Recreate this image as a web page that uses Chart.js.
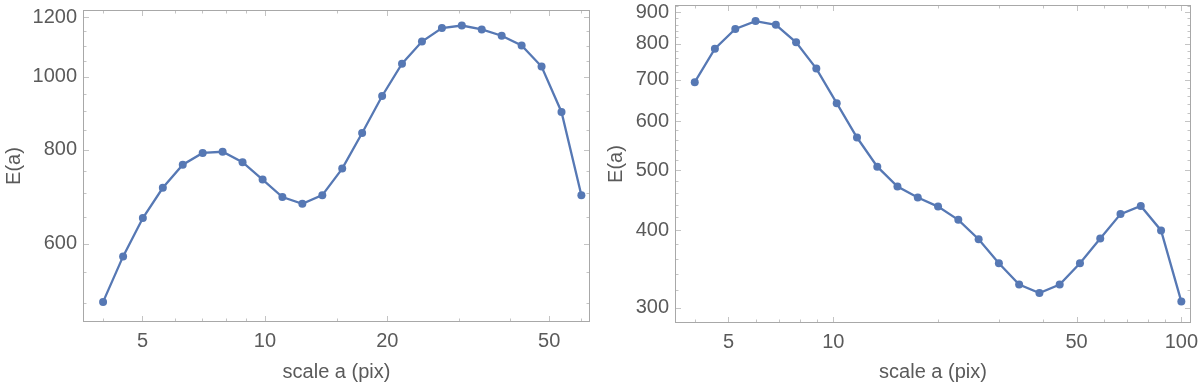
<!DOCTYPE html>
<html>
<head>
<meta charset="utf-8">
<script src="https://cdn.jsdelivr.net/npm/chart.js@4/dist/chart.umd.min.js"></script>
<style>
  html, body { margin: 0; padding: 0; background: #fff; }
  .panel { position: absolute; top: 0; width: 600px; height: 384px; }
</style>
</head>
<body>
<div class="panel" style="left:0"><canvas id="chartLeft" width="600" height="384"></canvas></div>
<div class="panel" style="left:600px"><canvas id="chartRight" width="600" height="384"></canvas></div>
<script>
// ============================================================================
//  DATA
// ============================================================================
const leftScales = [4.0, 4.48, 5.01, 5.61, 6.28, 7.03, 7.87, 8.81, 9.87, 11.04, 12.36, 13.84,
    15.49, 17.34, 19.42, 21.73, 24.33, 27.24, 30.49, 34.13, 38.21, 42.78, 47.89, 53.61, 60.0];
const leftEnergy = [502, 577, 649, 712, 764, 792, 795, 770, 730, 692, 678, 696,
    755, 842, 943, 1041, 1114, 1161, 1170, 1156, 1134, 1101, 1032, 898, 696];

const rightScales = [4.0, 4.57, 5.23, 5.98, 6.84, 7.82, 8.94, 10.23, 11.70, 13.38, 15.29, 17.49,
    20.0, 22.87, 26.16, 29.91, 34.20, 39.11, 44.72, 51.14, 58.48, 66.87, 76.47, 87.44, 100];
const rightEnergy = [694, 786, 846, 871, 859, 805, 730, 642, 565, 507, 471, 452,
    437, 416, 387, 354, 327, 317, 327, 354, 388, 425, 438, 400, 307];

// tick labels (major) and unlabelled minor ticks
const leftXMajor = [5, 10, 20, 50];
const leftXMinor = [4, 6, 7, 8, 9, 15, 30, 40, 60];
const leftYMajor = [600, 800, 1000, 1200];
const leftYMinor = [500, 550, 650, 700, 750, 850, 900, 950, 1050, 1100, 1150];

const rightXMajor = [5, 10, 50, 100];
const rightXMinor = [4, 6, 7, 8, 9, 20, 30, 40, 60, 70, 80, 90];
const rightYMajor = [300, 400, 500, 600, 700, 800, 900];
const rightYMinor = [320, 340, 360, 380, 420, 440, 460, 480, 520, 540, 560, 580,
    620, 640, 660, 680, 720, 740, 760, 780, 820, 840, 860, 880, 920];

const xTitle = "scale a (pix)";
const yTitle = "E(a)";

// ============================================================================
//  STYLE
// ============================================================================
const LINE_COLOR = "rgb(86,120,180)";
const TEXT_COLOR = "#5a5a5a";
const FRAME_COLOR = "#a8a8a8";
const TICK_COLOR = "#c4c4c4";

Chart.defaults.font.family = "'Liberation Sans', Arial, sans-serif";
Chart.defaults.font.size = 20;
Chart.defaults.color = TEXT_COLOR;

// Mathematica-like frame with ticks on the inside, all four sides
const frameTicks = {
    id: "frameTicks",
    beforeDatasetsDraw(chart) {
        const ctx = chart.ctx;
        const a = chart.chartArea;
        const sx = chart.scales.x, sy = chart.scales.y;
        ctx.save();
        ctx.lineWidth = 1;
        ctx.strokeStyle = TICK_COLOR;
        ctx.beginPath();
        for (const t of sx.ticks) {
            const p = Math.round(sx.getPixelForValue(t.value)) + 0.5;
            const len = t.big ? 6 : 3.5;
            ctx.moveTo(p, a.bottom); ctx.lineTo(p, a.bottom - len);
            ctx.moveTo(p, a.top); ctx.lineTo(p, a.top + len);
        }
        for (const t of sy.ticks) {
            const p = Math.round(sy.getPixelForValue(t.value)) + 0.5;
            const len = t.big ? 6 : 3.5;
            ctx.moveTo(a.left, p); ctx.lineTo(a.left + len, p);
            ctx.moveTo(a.right, p); ctx.lineTo(a.right - len, p);
        }
        ctx.stroke();
        ctx.strokeStyle = FRAME_COLOR;
        ctx.strokeRect(a.left + 0.5, a.top + 0.5, a.width - 1, a.height - 1);
        ctx.restore();
    }
};

// ============================================================================
//  PANEL
// ============================================================================
function createPanel(canvasId, xs, ys, cfg) {
    const setTicks = (major, minor) => scale => {
        scale.ticks = major.concat(minor).sort((a, b) => a - b)
            .map(v => ({ value: v, big: major.includes(v) }));
    };
    const label = major => (v) => major.includes(v) ? String(v) : "";
    const noPad = s => { s.paddingTop = 0; s.paddingBottom = 0; s.paddingLeft = 0; s.paddingRight = 0; };

    new Chart(document.getElementById(canvasId), {
        type: "line",
        data: {
            datasets: [{
                data: xs.map((x, i) => ({ x: x, y: ys[i] })),
                borderColor: LINE_COLOR,
                backgroundColor: LINE_COLOR,
                borderWidth: 2.3,
                pointRadius: 4,
                pointBorderWidth: 0,
                pointBackgroundColor: LINE_COLOR,
                tension: 0,
                clip: false
            }]
        },
        options: {
            responsive: false,
            animation: false,
            devicePixelRatio: 1,
            layout: { padding: cfg.padding },
            plugins: { legend: { display: false }, tooltip: { enabled: false } },
            scales: {
                x: {
                    type: "logarithmic",
                    bounds: "data",
                    min: cfg.xMin, max: cfg.xMax,
                    grid: { display: false, drawTicks: false },
                    border: { display: false },
                    afterBuildTicks: setTicks(cfg.xMajor, cfg.xMinor),
                    afterFit: s => { s.height = cfg.xHeight; noPad(s); },
                    ticks: { callback: label(cfg.xMajor), autoSkip: false, maxRotation: 0, minRotation: 0, padding: 7, color: TEXT_COLOR },
                    title: { display: true, text: xTitle, color: TEXT_COLOR, padding: 0 }
                },
                y: {
                    type: "logarithmic",
                    bounds: "data",
                    min: cfg.yMin, max: cfg.yMax,
                    grid: { display: false, drawTicks: false },
                    border: { display: false },
                    afterBuildTicks: setTicks(cfg.yMajor, cfg.yMinor),
                    afterFit: s => { s.width = cfg.yWidth; noPad(s); },
                    ticks: { callback: label(cfg.yMajor), autoSkip: false, padding: 6, color: TEXT_COLOR },
                    title: { display: true, text: yTitle, color: TEXT_COLOR, padding: { top: cfg.yTitlePad, bottom: 0 } }
                }
            }
        },
        plugins: [frameTicks]
    });
}

createPanel("chartLeft", leftScales, leftEnergy, {
    xMin: 3.57, xMax: 63, yMin: 472, yMax: 1227,
    xMajor: leftXMajor, xMinor: leftXMinor, yMajor: leftYMajor, yMinor: leftYMinor,
    padding: { left: 0, right: 10, top: 10, bottom: 0 },
    yWidth: 83, xHeight: 62, yTitlePad: 2
});

createPanel("chartRight", rightScales, rightEnergy, {
    xMin: 3.51, xMax: 106.6, yMin: 283.5, yMax: 924.7,
    xMajor: rightXMajor, xMinor: rightXMinor, yMajor: rightYMajor, yMinor: rightYMinor,
    padding: { left: 0, right: 9, top: 5, bottom: 0 },
    yWidth: 75, xHeight: 61, yTitlePad: 4
});
</script>
</body>
</html>
